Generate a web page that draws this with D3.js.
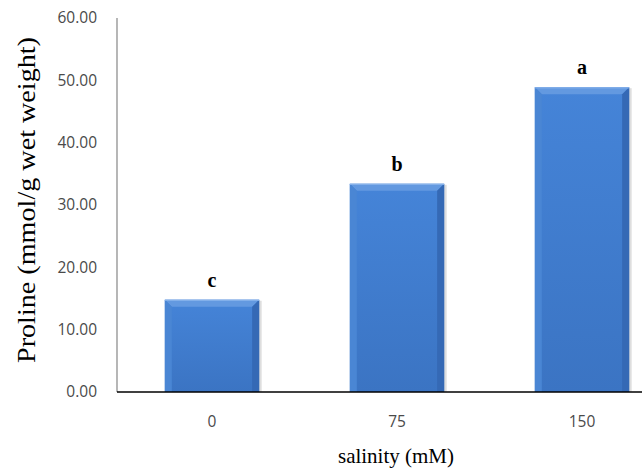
<!DOCTYPE html>
<html><head><meta charset="utf-8">
<script src="https://cdn.jsdelivr.net/npm/d3@7"></script>
<style>body{margin:0;background:#fff}svg{display:block}</style>
</head><body>
<script>
const categories = ["0", "75", "150"];
const values = [14.8, 33.4, 48.9];
const letters = ["c", "b", "a"];
const yTicks = [0, 10, 20, 30, 40, 50, 60];

const W = 642, H = 470;
const svg = d3.select("body").append("svg").attr("width", W).attr("height", H);
const defs = svg.append("defs");
const g1 = defs.append("linearGradient").attr("id","face").attr("x1",0).attr("y1",0).attr("x2",0).attr("y2",1);
g1.append("stop").attr("offset","0%").attr("stop-color","#4584d8");
g1.append("stop").attr("offset","100%").attr("stop-color","#3b74c3");

const x0 = 117, y0 = 392, yTop = 18;
const x = d3.scaleBand().domain(categories).range([119.5, 119.5 + 555]).paddingInner(0.49).paddingOuter(0.245);
const y = d3.scaleLinear().domain([0, 60]).range([y0, yTop]);

// bars
const bev = 7;
const bars = svg.append("g").selectAll("g").data(values).join("g");
bars.each(function(v, i) {
  const g = d3.select(this);
  const bx = x(categories[i]), bw = x.bandwidth(), by = y(v), bh = y(0) - y(v);
  g.append("rect").attr("x", bx + 1).attr("y", by + 1).attr("width", bw + 1.5).attr("height", bh - 1).attr("fill", "#d0d0d0").attr("opacity", 0.7);
  g.append("rect").attr("x", bx).attr("y", by).attr("width", bw).attr("height", bh).attr("fill", "url(#face)");
  const L = bx, R = bx + bw, T = by, B = by + bh;
  g.append("polygon").attr("points", [[L,T],[R,T],[R-bev,T+bev],[L+bev,T+bev]].join(" ")).attr("fill", "#6399e0");
  g.append("polygon").attr("points", [[L,T],[L+bev,T+bev],[L+bev,B],[L,B]].join(" ")).attr("fill", "#4a86d4");
  g.append("polygon").attr("points", [[R,T],[R-bev,T+bev],[R-bev,B],[R,B]].join(" ")).attr("fill", "#3569b5");
  g.append("rect").attr("x", L).attr("y", T).attr("width", bw).attr("height", 1.2).attr("fill", "#85b1ea");
});

// letters
svg.append("g").selectAll("text").data(values).join("text")
  .attr("x", (d, i) => x(categories[i]) + x.bandwidth() / 2)
  .attr("y", d => y(d) - 13)
  .attr("text-anchor", "middle")
  .attr("font-family", "Liberation Serif")
  .attr("font-weight", "bold")
  .attr("font-size", 20)
  .attr("fill", "#000")
  .text((d, i) => letters[i]);

// axes lines
svg.append("line").attr("x1", x0).attr("x2", x0).attr("y1", yTop).attr("y2", y0).attr("stroke", "#868686").attr("stroke-width", 1.2);
svg.append("line").attr("x1", x0).attr("x2", W).attr("y1", y0).attr("y2", y0).attr("stroke", "#000").attr("stroke-width", 1.5);

// y tick labels
svg.append("g").selectAll("text").data(yTicks).join("text")
  .attr("x", 97).attr("y", d => y(d)).attr("dy", "0.35em")
  .attr("text-anchor", "end")
  .attr("font-family", "Open Sans").attr("font-size", 15.5).attr("fill", "#4a4a4a")
  .text(d => d.toFixed(2));

// x tick labels
svg.append("g").selectAll("text").data(categories).join("text")
  .attr("x", d => x(d) + x.bandwidth() / 2).attr("y", 422).attr("dy", "0.35em")
  .attr("text-anchor", "middle")
  .attr("font-family", "Open Sans").attr("font-size", 15.5).attr("fill", "#4a4a4a")
  .text(d => d);

// axis titles
svg.append("text").attr("x", 396).attr("y", 456).attr("dy", "0.35em")
  .attr("text-anchor", "middle").attr("font-family", "Liberation Serif").attr("font-size", 21).attr("fill", "#000")
  .text("salinity (mM)");
svg.append("text").attr("transform", "translate(26,200) rotate(-90)").attr("dy", "0.35em")
  .attr("text-anchor", "middle").attr("font-family", "Liberation Serif").attr("font-size", 25).attr("fill", "#000")
  .attr("textLength", 326).attr("lengthAdjust", "spacingAndGlyphs")
  .text("Proline (mmol/g wet weight)");
</script>
</body></html>
